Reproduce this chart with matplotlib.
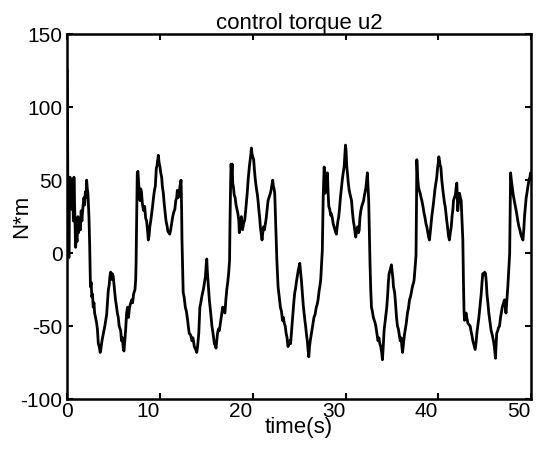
import matplotlib
import matplotlib.transforms as mtransforms

matplotlib.use("Agg")
import matplotlib.pyplot as plt

plt.rcParams["font.family"] = ["Liberation Sans", "DejaVu Sans"]
plt.rcParams["axes.unicode_minus"] = False

# control torque u2
time_s = [
    0.00, 0.04, 0.08, 0.12, 0.20, 0.24, 0.30, 0.36, 0.42, 0.50, 0.58, 0.66, 0.72, 0.80, 0.90, 0.98,
    1.06, 1.15, 1.22, 1.26, 1.35, 1.42, 1.50, 1.58, 1.62, 1.70, 1.80, 1.88, 1.95, 2.03, 2.09, 2.16,
    2.23, 2.30, 2.34, 2.42, 2.45, 2.50, 2.58, 2.65, 2.72, 2.80, 2.88, 2.95, 3.05, 3.17, 3.25, 3.35,
    3.45, 3.55, 3.62, 3.70, 3.80, 3.96, 4.05, 4.15, 4.25, 4.35, 4.43, 4.52, 4.60, 4.68, 4.76, 4.85,
    4.96, 5.05, 5.10, 5.20, 5.30, 5.40, 5.50, 5.60, 5.76, 5.85, 5.95, 6.05, 6.12, 6.20, 6.30, 6.40,
    6.50, 6.60, 6.70, 6.80, 6.95, 7.05, 7.15, 7.30, 7.38, 7.42, 7.50, 7.55, 7.62, 7.70, 7.78, 7.85,
    7.92, 8.00, 8.10, 8.20, 8.27, 8.35, 8.45, 8.56, 8.65, 8.74, 8.82, 8.90, 9.00, 9.10, 9.20, 9.30,
    9.40, 9.50, 9.60, 9.68, 9.76, 9.82, 9.90, 10.00, 10.08, 10.18, 10.25, 10.36, 10.45, 10.55, 10.65,
    10.75, 10.85, 10.95, 11.05, 11.15, 11.25, 11.37, 11.48, 11.60, 11.70, 11.80, 11.87, 11.95, 12.05,
    12.15, 12.27, 12.33, 12.37, 12.45, 12.50, 12.60, 12.73, 12.85, 12.98, 13.05, 13.15, 13.30, 13.45,
    13.55, 13.70, 13.85, 13.96, 14.05, 14.18, 14.30, 14.40, 14.50, 14.60, 14.70, 14.80, 14.90, 14.98,
    15.04, 15.10, 15.18, 15.25, 15.32, 15.45, 15.60, 15.72, 15.86, 15.95, 16.04, 16.12, 16.20, 16.30,
    16.40, 16.47, 16.60, 16.76, 16.88, 17.00, 17.10, 17.20, 17.30, 17.40, 17.50, 17.55, 17.62, 17.66,
    17.72, 17.78, 17.84, 17.92, 18.00, 18.10, 18.20, 18.30, 18.40, 18.50, 18.55, 18.62, 18.70, 18.77,
    18.85, 18.90, 19.00, 19.14, 19.22, 19.30, 19.40, 19.50, 19.63, 19.72, 19.80, 19.85, 19.92, 20.00,
    20.10, 20.18, 20.28, 20.40, 20.50, 20.57, 20.65, 20.75, 20.82, 20.90, 21.00, 21.08, 21.16, 21.25,
    21.36, 21.45, 21.55, 21.65, 21.75, 21.90, 22.00, 22.08, 22.15, 22.22, 22.30, 22.37, 22.45, 22.50,
    22.60, 22.73, 22.85, 22.98, 23.10, 23.20, 23.30, 23.40, 23.50, 23.60, 23.70, 23.80, 23.90, 24.00,
    24.08, 24.16, 24.25, 24.35, 24.45, 24.53, 24.62, 24.70, 24.80, 24.90, 25.00, 25.07, 25.15, 25.25,
    25.35, 25.45, 25.53, 25.62, 25.70, 25.78, 25.88, 25.96, 26.04, 26.12, 26.20, 26.32, 26.45, 26.60,
    26.72, 26.85, 26.95, 27.04, 27.15, 27.25, 27.33, 27.42, 27.50, 27.60, 27.70, 27.76, 27.80, 27.90,
    27.98, 28.05, 28.12, 28.20, 28.30, 28.40, 28.48, 28.58, 28.68, 28.77, 28.85, 28.95, 29.02, 29.10,
    29.18, 29.27, 29.35, 29.45, 29.56, 29.65, 29.75, 29.85, 29.92, 30.00, 30.06, 30.14, 30.22, 30.30,
    30.40, 30.50, 30.58, 30.65, 30.75, 30.85, 30.95, 31.05, 31.10, 31.20, 31.30, 31.40, 31.48, 31.55,
    31.65, 31.75, 31.85, 31.95, 32.05, 32.12, 32.20, 32.28, 32.36, 32.42, 32.50, 32.58, 32.65, 32.72,
    32.80, 32.90, 33.00, 33.10, 33.20, 33.27, 33.38, 33.50, 33.60, 33.70, 33.80, 33.90, 33.98, 34.06,
    34.16, 34.25, 34.35, 34.45, 34.55, 34.62, 34.70, 34.80, 34.88, 34.95, 35.05, 35.12, 35.17, 35.24,
    35.30, 35.40, 35.50, 35.60, 35.70, 35.80, 35.90, 36.00, 36.08, 36.15, 36.25, 36.35, 36.43, 36.55,
    36.68, 36.78, 36.90, 37.00, 37.10, 37.15, 37.25, 37.35, 37.40, 37.50, 37.60, 37.65, 37.69, 37.75,
    37.80, 37.87, 37.95, 38.05, 38.15, 38.23, 38.35, 38.48, 38.58, 38.68, 38.77, 38.88, 38.96, 39.05,
    39.15, 39.22, 39.30, 39.40, 39.48, 39.56, 39.65, 39.75, 39.84, 39.92, 40.00, 40.06, 40.14, 40.20,
    40.28, 40.38, 40.50, 40.60, 40.68, 40.75, 40.85, 40.92, 41.00, 41.10, 41.20, 41.30, 41.40, 41.50,
    41.58, 41.64, 41.75, 41.85, 41.93, 42.00, 42.05, 42.10, 42.20, 42.30, 42.38, 42.47, 42.55, 42.65,
    42.72, 42.78, 42.83, 42.92, 43.00, 43.10, 43.20, 43.32, 43.44, 43.55, 43.65, 43.73, 43.85, 43.98,
    44.08, 44.16, 44.26, 44.38, 44.50, 44.63, 44.72, 44.80, 44.90, 45.00, 45.10, 45.18, 45.25, 45.35,
    45.45, 45.55, 45.70, 45.82, 45.95, 46.05, 46.17, 46.24, 46.30, 46.42, 46.50, 46.60, 46.72, 46.82,
    46.90, 47.00, 47.14, 47.22, 47.30, 47.40, 47.50, 47.60, 47.70, 47.75, 47.80, 47.88, 47.98, 48.08,
    48.20, 48.32, 48.46, 48.58, 48.70, 48.80, 48.90, 49.00, 49.13, 49.22, 49.30, 49.40, 49.48, 49.56,
    49.65, 49.78, 49.88, 49.95, 50.00,
]
torque = [
    125, 80, 20, -2, -3, 45, 52, 38, 50, 30, 48, 22, 52, 30, 4, 12,
    8, 25, 14, 18, 22, 16, 29, 22, 26, 32, 38, 33, 42, 38, 50, 44,
    41, 30, 25, 5, -7, -23, -20, -30, -28, -37, -34, -41, -44, -48, -52, -62,
    -64, -68, -66, -62, -58, -53, -50, -46, -42, -32, -25, -22, -16, -13, -18, -14,
    -16, -22, -25, -32, -36, -41, -44, -50, -53, -60, -58, -66, -67, -60, -52, -41,
    -37, -44, -38, -35, -32, -34, -28, -25, -18, -7, 30, 55, 56, 48, 40, 36,
    44, 42, 34, 30, 29, 32, 24, 22, 16, 9, 12, 18, 22, 27, 32, 38,
    43, 46, 58, 60, 64, 67, 62, 59, 55, 52, 46, 41, 34, 28, 22,
    19, 15, 14, 13, 16, 20, 25, 28, 30, 36, 38, 43, 38, 40,
    46, 50, 30, 9, -15, -27, -30, -37, -40, -46, -50, -55, -56, -60,
    -58, -64, -66, -68, -64, -55, -37, -34, -30, -27, -24, -20, -16, -8,
    -4, -12, -19, -26, -32, -40, -50, -55, -62, -63, -65, -60, -55, -52,
    -53, -50, -44, -37, -40, -41, -32, -25, -20, -14, -5, 22, 50, 61,
    55, 61, 48, 45, 40, 38, 33, 30, 27, 22, 14, 20, 22, 25,
    18, 16, 20, 23, 28, 34, 41, 50, 59, 64, 68, 72, 68, 66,
    64, 57, 50, 44, 40, 36, 30, 24, 18, 14, 9, 14, 18, 16,
    20, 24, 30, 36, 38, 41, 44, 47, 50, 46, 44, 41, 25, 13,
    -5, -23, -30, -37, -40, -46, -44, -48, -50, -55, -58, -64, -62, -60,
    -62, -55, -48, -40, -32, -27, -24, -20, -16, -12, -9, -7, -12, -19,
    -28, -36, -41, -46, -50, -55, -60, -66, -71, -64, -60, -55, -50, -44,
    -42, -37, -35, -32, -26, -22, -18, -8, 2, 40, 59, 50, 41, 48,
    52, 55, 42, 32, 30, 26, 27, 24, 20, 18, 16, 14, 13, 18,
    22, 25, 30, 38, 45, 50, 55, 59, 66, 74, 70, 59, 54, 48,
    43, 40, 38, 36, 28, 22, 18, 13, 11, 15, 18, 14, 16, 24,
    29, 32, 34, 36, 40, 42, 45, 50, 55, 46, 36, 10, -9, -25,
    -37, -40, -44, -46, -48, -50, -55, -60, -58, -62, -64, -68, -73, -65,
    -53, -48, -42, -37, -28, -20, -14, -12, -10, -8, -14, -18, -23, -25,
    -27, -35, -44, -50, -52, -56, -60, -58, -64, -68, -62, -56, -53, -48,
    -41, -38, -32, -30, -27, -25, -22, -20, -18, -10, -2, 30, 64, 55,
    50, 45, 43, 41, 38, 36, 32, 27, 24, 20, 18, 14, 11, 9,
    15, 20, 25, 30, 34, 39, 44, 48, 52, 58, 62, 66, 63, 60,
    59, 50, 43, 38, 34, 32, 26, 22, 18, 12, 9, 14, 18, 26,
    30, 36, 38, 40, 45, 48, 40, 29, 36, 41, 38, 36, 24, 9,
    -21, -40, -46, -43, -41, -45, -48, -49, -50, -54, -57, -60, -63, -66,
    -61, -55, -50, -44, -36, -28, -20, -14, -15, -13, -14, -20, -28, -34,
    -41, -46, -53, -56, -60, -64, -72, -63, -55, -53, -51, -50, -44, -40,
    -37, -35, -32, -36, -41, -32, -23, -12, 0, 30, 55, 50, 45, 40,
    36, 32, 27, 22, 18, 16, 13, 11, 9, 16, 25, 32, 38, 41,
    45, 50, 52, 55, 54,
]
x_ticks = [0, 10, 20, 30, 40, 50]
y_ticks = [-100, -50, 0, 50, 100, 150]

fig = plt.figure(figsize=(5.38, 4.49), dpi=100)
ax = fig.add_axes([0.125, 0.111, 0.862, 0.813])
ax.plot(time_s, torque, color="black", linewidth=2.0)

ax.set_xlim(0, 50)
ax.set_ylim(-100, 150)
ax.set_xticks(x_ticks)
ax.set_yticks(y_ticks)
ax.tick_params(direction="in", top=True, right=True, length=4, width=1.5,
               labelsize=15)
ax.tick_params(axis="x", pad=2)
ax.tick_params(axis="y", pad=3.5)
for spine in ax.spines.values():
    spine.set_linewidth(1.8)

# tick labels in the scan sit a little left of their ticks
shift = mtransforms.ScaledTranslation(-0.12, 0, fig.dpi_scale_trans)
for label in ax.get_xticklabels()[1:]:
    label.set_transform(label.get_transform() + shift)

ax.set_title("control torque u2", fontsize=16, pad=4)
ax.set_xlabel("time(s)", fontsize=16)
ax.xaxis.set_label_coords(0.5, -0.05)
ax.set_ylabel("N*m", fontsize=16)
ax.yaxis.set_label_coords(-0.075, 0.5)

fig.savefig("out.png", dpi=100)
